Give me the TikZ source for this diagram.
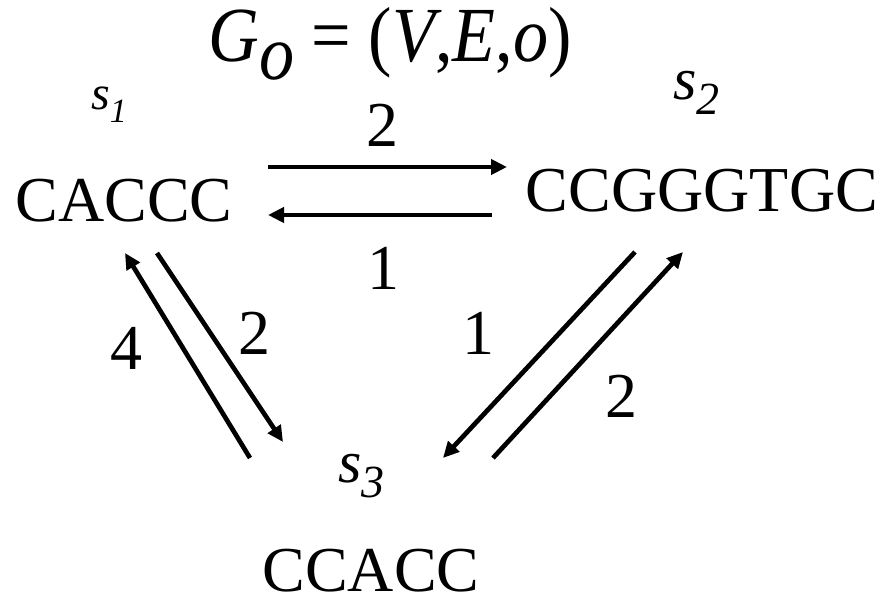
\documentclass[tikz,border=0pt]{standalone}
\usepackage{fontspec}
\setmainfont{Liberation Serif}
\usetikzlibrary{arrows.meta}
\tikzset{
  seq/.style={inner sep=0pt, anchor=base, font=\fontsize{64}{70}\selectfont},
  wlbl/.style={inner sep=0pt, anchor=base, font=\fontsize{64}{70}\selectfont},
  ttl/.style={inner sep=0pt, anchor=base, font=\fontsize{78}{80}\selectfont},
  sname/.style={inner sep=0pt, anchor=base west},
  edge/.style={line width=4.7pt, -{Triangle[length=16pt,width=15pt]}},
}
\begin{document}
\begin{tikzpicture}[x=1pt,y=-1pt]
\useasboundingbox (0,0) rectangle (887,601);
% title
\node[ttl] (title) at (390,62) {\scalebox{0.9}[1]{\textit{G}\raisebox{-18pt}{\textit{o}} = (\textit{V},\textit{E},\textit{o})}};
% state names
\node[sname] (s1) at (91,110) {\fontsize{48}{50}\selectfont\textit{s}\raisebox{-13pt}{\fontsize{34}{36}\selectfont\textit{1}}};
\node[sname] (s2) at (673,100) {\fontsize{60}{62}\selectfont\textit{s}\raisebox{-15pt}{\fontsize{46}{48}\selectfont\textit{2}}};
\node[sname] (s3) at (338,483) {\fontsize{60}{62}\selectfont\textit{s}\raisebox{-15pt}{\fontsize{46}{48}\selectfont\textit{3}}};
% sequences
\node[seq] (q1) at (124,222) {CACCC};
\node[seq] (q2) at (702,212) {CCGGGTGC};
\node[seq] (q3) at (371,591) {CCACC};
% weights
\node[wlbl] (w12) at (382,147) {2};
\node[wlbl] (w21) at (383,290) {1};
\node[wlbl] (w31) at (126,370) {4};
\node[wlbl] (w13) at (254,355) {2};
\node[wlbl] (w23) at (478,355) {1};
\node[wlbl] (w32) at (621,418) {2};
% arrow ends
\coordinate (a12s) at (268,167);
\coordinate (a12e) at (507,167);
\coordinate (a21s) at (492,215);
\coordinate (a21e) at (268,215);
\coordinate (a31s) at (250,458);
\coordinate (a31e) at (125,253);
\coordinate (a13s) at (157,253);
\coordinate (a13e) at (283,442);
\coordinate (a23s) at (635,252);
\coordinate (a23e) at (443,458);
\coordinate (a32s) at (493,458);
\coordinate (a32e) at (683,252);
\draw[edge] (a12s) -- (a12e);
\draw[edge] (a21s) -- (a21e);
\draw[edge] (a31s) -- (a31e);
\draw[edge] (a13s) -- (a13e);
\draw[edge] (a23s) -- (a23e);
\draw[edge] (a32s) -- (a32e);
\end{tikzpicture}
\end{document}
